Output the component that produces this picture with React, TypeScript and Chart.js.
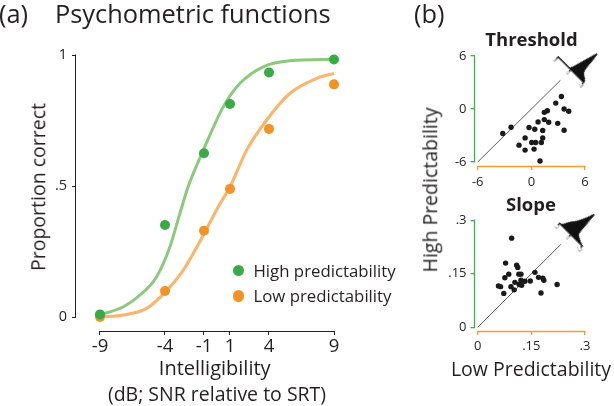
import React, { useEffect, useRef } from "react";
import { Chart, registerables } from "chart.js";

Chart.register(...registerables);

const FONT = "'Open Sans', 'Noto Sans', 'DejaVu Sans', sans-serif";
Chart.defaults.font.family = FONT;

const INK = "#231f20";
const GREEN_DOT = "#3aa947";
const ORANGE_DOT = "#f39226";
const GREEN_FIT = "#8dc97c";
const ORANGE_FIT = "#fbb469";
const GREEN_AXIS = "#3fb14a";
const ORANGE_AXIS = "#f59b32";
const DOT_INK = "#1a1a1a";

// ---------- Panel (a): psychometric functions ----------
const snrLevels = [-9, -4, -1, 1, 4, 9];
const snrTickLabels = ["-9", "-4", "-1", "1", "4", "9"];
const highPredPoints = [0.01, 0.351, 0.625, 0.813, 0.933, 0.983];
const lowPredPoints = [0.0, 0.099, 0.329, 0.489, 0.718, 0.888];
const highFitX = [-9, -7.2, -5.92, -4.64, -3.62, -2.85, -2.2, -1.05, 0.49, 1.77, 3.56, 5.6, 9];
const highFitY = [0.008, 0.039, 0.084, 0.154, 0.268, 0.396, 0.5, 0.637, 0.803, 0.892, 0.955, 0.978, 0.983];
const lowFitX = [-9, -7.2, -5.41, -3.95, -2.59, -1.05, 0.1, 1.0, 2.28, 3.82, 5.62, 7.67, 9];
const lowFitY = [0.0, 0.008, 0.033, 0.097, 0.179, 0.313, 0.421, 0.497, 0.637, 0.752, 0.854, 0.911, 0.93];
const propTicks = [0, 0.5, 1];
const propTickLabels = ["0", ".5", "1"];

// ---------- Panel (b): Threshold ----------
const thrLow = [-3.2, -2.27, 3.36, 2.73, 3.66, 4.18, 1.45, 1.79, 0.75, 1.45, 1.94, 2.95, 3.66, -0.26, 0.38, 1.27, -0.7, 1.27, 0.04, 0.49, 1.12, -1.38, -0.7, 0.3, 0.97];
const thrHigh = [-2.78, -2.07, 1.42, 0.67, 0, -0.26, -0.38, -0.19, -1.46, -1.2, -1.5, -1.62, -2.4, -2.1, -2.29, -2.44, -3.27, -3.27, -3.79, -3.79, -3.79, -4.09, -4.65, -4.54, -5.89];
const thrDiagonal = [-6, 3.25];
const thrTicks = [-6, 0, 6];
const thrTickLabels = ["-6", "0", "6"];
const thrDiffX = [8, 1.78, 0.89, 0, -0.89, -1.78, -2.67, -3.11, -3.56, -4, -4.44, -5.33, -6.67, -8];
const thrDiffCount = [0, 0, 0.34, 2.06, 4.47, 6.87, 9.28, 10.3, 8.25, 4.81, 3.09, 2.06, 1.37, 0.52];
const thrDiffTicks = [-8, 0, 8];
const thrDiffTickLabels = ["-8", "0", "8"];

// ---------- Panel (b): Slope ----------
const slpLow = [0.095, 0.078, 0.109, 0.112, 0.087, 0.115, 0.121, 0.16, 0.076, 0.17, 0.182, 0.185, 0.104, 0.121, 0.132, 0.147, 0.058, 0.064, 0.093, 0.116, 0.123, 0.102, 0.073, 0.222, 0.177];
const slpHigh = [0.25, 0.18, 0.174, 0.168, 0.149, 0.149, 0.149, 0.154, 0.139, 0.14, 0.138, 0.132, 0.126, 0.132, 0.129, 0.13, 0.116, 0.114, 0.114, 0.12, 0.118, 0.105, 0.095, 0.12, 0.096];
const slpDiagonal = [0, 0.232];
const slpTicks = [0, 0.15, 0.3];
const slpTickLabels = ["0", ".15", ".3"];
const slpDiffX = [0.2, 0.175, 0.15, 0.125, 0.0875, 0.0625, 0.025, 0, -0.025, -0.0375, -0.05, -0.075, -0.1125, -0.15, -0.2];
const slpDiffCount = [0, 0.34, 1.37, 2.75, 4.12, 5.15, 7.22, 8.93, 10.65, 6.87, 3.09, 1.72, 1.03, 0.52, 0];
const slpDiffTicks = [-0.2, 0, 0.2];
const slpDiffTickLabels = ["-.2", "0", ".2"];

const pts = (xs: number[], ys: number[]) => xs.map((x, i) => ({ x, y: ys[i] }));

// Draws the detached axis lines through the chart's own scales
const axisLinesPlugin = {
  id: "axisLines",
  beforeDatasetsDraw(chart: any, _args: any, opts: any) {
    if (!opts || !opts.xRange) return;
    const { ctx, chartArea } = chart;
    const xs = chart.scales.x;
    const ys = chart.scales.y;
    ctx.save();
    ctx.lineWidth = opts.lineWidth || 1;
    const yb = Math.round(chartArea.bottom) + 0.5;
    ctx.strokeStyle = opts.xColor;
    ctx.beginPath();
    ctx.moveTo(Math.round(xs.getPixelForValue(opts.xRange[0])) - 0.5, yb);
    ctx.lineTo(Math.round(xs.getPixelForValue(opts.xRange[1])) + 0.5, yb);
    ctx.stroke();
    const xl = Math.round(chartArea.left) - 0.5;
    ctx.strokeStyle = opts.yColor;
    ctx.beginPath();
    ctx.moveTo(xl, Math.round(ys.getPixelForValue(opts.yRange[1])) - 0.5);
    ctx.lineTo(xl, Math.round(ys.getPixelForValue(opts.yRange[0])) + 0.5);
    ctx.stroke();
    ctx.restore();
  },
};

function axis(values: number[], labels: string[], opt: any) {
  return {
    type: "linear",
    min: opt.min,
    max: opt.max,
    reverse: !!opt.reverse,
    afterBuildTicks: (scale: any) => {
      scale.ticks = values.map((v) => ({ value: v }));
    },
    afterFit: (scale: any) => {
      if (opt.width !== undefined) scale.width = opt.width;
      if (opt.height !== undefined) scale.height = opt.height;
    },
    ticks: {
      autoSkip: false,
      maxRotation: 0,
      minRotation: 0,
      padding: opt.padding,
      color: opt.labelColor || INK,
      font: { family: FONT, size: opt.size },
      callback: (_v: any, i: number) => labels[i],
    },
    grid: {
      drawOnChartArea: false,
      drawTicks: true,
      tickLength: opt.tickLength || 4,
      color: opt.color,
      tickColor: opt.color,
      lineWidth: opt.lineWidth || 1,
    },
    border: { display: !!opt.border, color: opt.color, width: opt.lineWidth || 1 },
  };
}

const baseOptions = (padding: any) => ({
  responsive: false,
  animation: false,
  devicePixelRatio: 1,
  events: [],
  layout: { padding },
});

const buildPanelA = () => ({
  type: "scatter",
  data: {
    datasets: [
      { label: "High predictability", data: pts(snrLevels, highPredPoints), backgroundColor: GREEN_DOT, borderWidth: 0, pointRadius: 5, order: 0, clip: false },
      { label: "Low predictability", data: pts(snrLevels, lowPredPoints), backgroundColor: ORANGE_DOT, borderWidth: 0, pointRadius: 5, order: 0, clip: false },
      { label: "High fit", data: pts(highFitX, highFitY), showLine: true, borderColor: GREEN_FIT, borderWidth: 3, pointRadius: 0, cubicInterpolationMode: "monotone", order: 1, clip: false },
      { label: "Low fit", data: pts(lowFitX, lowFitY), showLine: true, borderColor: ORANGE_FIT, borderWidth: 3, pointRadius: 0, cubicInterpolationMode: "monotone", order: 1, clip: false },
    ],
  },
  options: {
    ...baseOptions({ left: 0, top: 55, right: 66, bottom: 45 }),
    plugins: {
      legend: { display: false },
      tooltip: { enabled: false },
      axisLines: { xRange: [-9, 9], yRange: [0, 1], xColor: INK, yColor: INK },
    },
    scales: {
      x: axis(snrLevels, snrTickLabels, { min: -10.846, max: 9, size: 18.5, padding: 1, color: INK, height: 30 }),
      y: axis(propTicks, propTickLabels, { min: -0.0534, max: 1, size: 14.5, padding: 5, color: INK, width: 76 }),
    },
  },
  plugins: [axisLinesPlugin],
});

const scatterPanel = (lows: number[], highs: number[], diag: number[], ticks: number[], labels: string[], xr: number[], yr: number[], pad: any, xh: number, xpad: number) => ({
  type: "scatter",
  data: {
    datasets: [
      { label: "Participants", data: pts(lows, highs), backgroundColor: DOT_INK, borderWidth: 0, pointRadius: 2.7, order: 0, clip: false },
      { label: "Identity", data: pts(diag, diag), showLine: true, borderColor: "#333333", borderWidth: 0.8, pointRadius: 0, order: 1 },
    ],
  },
  options: {
    ...baseOptions(pad),
    plugins: {
      legend: { display: false },
      tooltip: { enabled: false },
      axisLines: { xRange: [ticks[0], ticks[ticks.length - 1]], yRange: [ticks[0], ticks[ticks.length - 1]], xColor: ORANGE_AXIS, yColor: GREEN_AXIS, lineWidth: 1.3 },
    },
    scales: {
      x: axis(ticks, labels, { min: xr[0], max: xr[1], size: 13, padding: xpad, color: ORANGE_AXIS, height: xh, lineWidth: 1.3 }),
      y: axis(ticks, labels, { min: yr[0], max: yr[1], size: 13, padding: 4, color: GREEN_AXIS, width: 74.5, lineWidth: 1.3 }),
    },
  },
  plugins: [axisLinesPlugin],
});

const insetPanel = (xs: number[], counts: number[], ticks: number[], labels: string[], range: number[]) => ({
  type: "line",
  data: {
    datasets: [
      { label: "Difference", data: pts(xs, counts), fill: "origin", backgroundColor: "#111111", borderColor: "#111111", borderWidth: 1, pointRadius: 0, cubicInterpolationMode: "monotone" },
    ],
  },
  options: {
    ...baseOptions({ left: 6, right: 6, top: 2, bottom: 0 }),
    plugins: { legend: { display: false }, tooltip: { enabled: false } },
    scales: {
      x: axis(ticks, labels, { min: range[0], max: range[1], reverse: true, size: 5, padding: 0, color: "#111111", labelColor: "#666666", height: 9, tickLength: 2, border: true, lineWidth: 1.4 }),
      y: { type: "linear", display: false, min: 0, max: 11 },
    },
  },
});

function ChartCanvas({ width, height, style, build }: { width: number; height: number; style: any; build: () => any }) {
  const ref = useRef<HTMLCanvasElement | null>(null);
  useEffect(() => {
    if (!ref.current) return;
    const chart = new Chart(ref.current, build());
    return () => chart.destroy();
  }, []);
  return <canvas ref={ref} width={width} height={height} style={{ position: "absolute", width, height, ...style }} />;
}

function Text({ children, x, baseline, size, bold, center }: any) {
  return (
    <div
      style={{
        position: "absolute",
        left: x,
        top: baseline - 0.888 * size,
        fontSize: size,
        lineHeight: `${size}px`,
        fontFamily: FONT,
        fontWeight: bold ? 700 : 400,
        color: INK,
        whiteSpace: "nowrap",
        transform: center ? "translateX(-50%)" : undefined,
      }}
    >
      {children}
    </div>
  );
}

function VText({ children, cx, cy, size }: any) {
  return (
    <div
      style={{
        position: "absolute",
        left: cx,
        top: cy,
        fontSize: size,
        lineHeight: `${size}px`,
        fontFamily: FONT,
        color: INK,
        whiteSpace: "nowrap",
        transform: "translate(-50%, -50%) rotate(-90deg)",
      }}
    >
      {children}
    </div>
  );
}

function Dot({ cx, cy, r, color }: any) {
  return <div style={{ position: "absolute", left: cx - r, top: cy - r, width: 2 * r, height: 2 * r, borderRadius: "50%", background: color }} />;
}

export default function App() {
  const thrInset = { cx: 571, cy: 70, w: 48, h: 43, ox: 24, oy: 34 };
  const slpInset = { cx: 571, cy: 234.5, w: 44, h: 43, ox: 22, oy: 34 };
  return (
    <div style={{ position: "fixed", left: 0, top: 0, width: 614, height: 406, background: "#ffffff", overflow: "hidden" }}>
      <ChartCanvas width={400} height={406} style={{ left: 0, top: 0 }} build={buildPanelA} />
      <ChartCanvas
        width={214}
        height={195}
        style={{ left: 400, top: 0 }}
        build={() => scatterPanel(thrLow, thrHigh, thrDiagonal, thrTicks, thrTickLabels, [-6.36, 6], [-6.45, 6], { left: 0, top: 56, right: 29, bottom: 4 }, 25, 4)}
      />
      <ChartCanvas
        width={214}
        height={211}
        style={{ left: 400, top: 195 }}
        build={() => scatterPanel(slpLow, slpHigh, slpDiagonal, slpTicks, slpTickLabels, [-0.0089, 0.3], [-0.0104, 0.3], { left: 0, top: 25.3, right: 29, bottom: 50 }, 25, 3)}
      />
      <ChartCanvas
        width={thrInset.w}
        height={thrInset.h}
        style={{ left: thrInset.cx - thrInset.ox, top: thrInset.cy - thrInset.oy, transformOrigin: `${thrInset.ox}px ${thrInset.oy}px`, transform: "rotate(45deg)" }}
        build={() => insetPanel(thrDiffX, thrDiffCount, thrDiffTicks, thrDiffTickLabels, [-8, 8])}
      />
      <ChartCanvas
        width={slpInset.w}
        height={slpInset.h}
        style={{ left: slpInset.cx - slpInset.ox, top: slpInset.cy - slpInset.oy, transformOrigin: `${slpInset.ox}px ${slpInset.oy}px`, transform: "rotate(45deg)" }}
        build={() => insetPanel(slpDiffX, slpDiffCount, slpDiffTicks, slpDiffTickLabels, [-0.2, 0.2])}
      />

      <Text x={-1} baseline={23.3} size={25.4}>(a)</Text>
      <Text x={55} baseline={23.3} size={25.4}>Psychometric functions</Text>
      <Text x={414} baseline={24} size={25.4}>(b)</Text>
      <Text x={531.5} baseline={46.7} size={18.5} bold center>Threshold</Text>
      <Text x={531} baseline={211} size={18.5} bold center>Slope</Text>
      <Text x={214.7} baseline={376} size={20} center>Intelligibility</Text>
      <Text x={217} baseline={401} size={19.5} center>(dB; SNR relative to SRT)</Text>
      <Text x={531} baseline={376} size={19.5} center>Low Predictability</Text>
      <VText cx={37.9} cy={186.5} size={19.5}>Proportion correct</VText>
      <VText cx={430.4} cy={190} size={19.5}>High Predictability</VText>

      <Dot cx={238.3} cy={270.7} r={5.8} color={GREEN_DOT} />
      <Dot cx={238.3} cy={296} r={5.8} color={ORANGE_DOT} />
      <Text x={253.5} baseline={278.3} size={16.8}>High predictability</Text>
      <Text x={253.5} baseline={302.7} size={16.8}>Low predictability</Text>
    </div>
  );
}
